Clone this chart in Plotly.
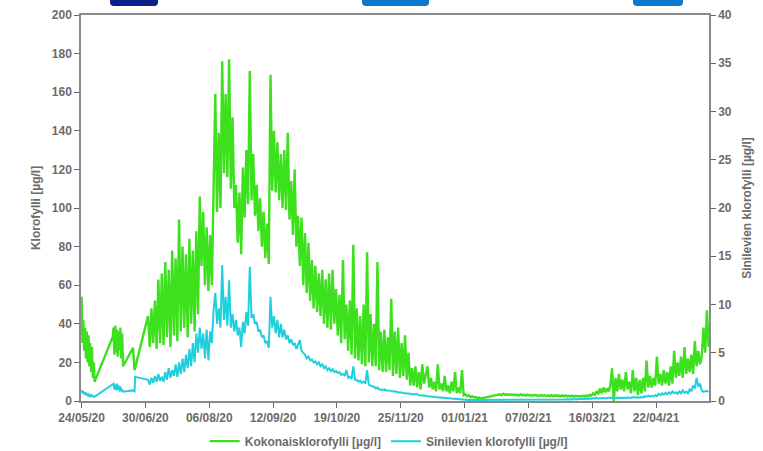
import pandas as pd
import plotly.graph_objects as go

START = pd.Timestamp("2020-05-24")

# ---------------- data (day offsets from 24/05/2020, values in µg/l) ----------------
# Kokonaisklorofylli (left axis)
green_a_start, green_a_step = 0.0, 0.5
green_a = [54, 30, 42, 26, 38, 22, 36, 20, 34, 18, 30, 15, 28, 12, 20, 10]
green_b_start, green_b_step = 18.0, 0.5
green_b = [33, 38, 24, 39, 25, 37, 23, 36, 26, 38, 22, 35, 18]
green_gap_days = [29.8, 30.7]
green_gap_vals = [27.5, 16]
green_c_start, green_c_step = 38.5, 1.0
green_c = [
    44, 28, 48, 30, 52, 27, 63, 30, 66, 29,
    72, 33, 68, 28, 78, 34, 74, 31, 94, 36,
    80, 38, 76, 33, 84, 40, 78, 36, 88, 45,
    106, 70, 98, 60, 90, 57, 86, 60, 120, 159,
    98, 139, 100, 176, 118, 159, 116, 177, 110, 147,
    100, 112, 82, 108, 76, 121, 95, 130, 102, 171,
    104, 128, 96, 112, 88, 105, 80, 98, 74, 92,
    71, 169, 109, 140, 108, 134, 104, 128, 100, 130,
    99, 139, 94, 114, 86, 120, 80, 96, 70, 95,
    60, 87, 56, 82, 52, 73, 48, 70, 46, 66,
    44, 68, 40, 63, 38, 66, 37, 68, 40, 58,
    34, 55, 30, 73, 32, 50, 26, 52, 24, 81,
    22, 48, 21, 44, 19, 50, 18, 77, 20, 45,
    18, 40, 18, 72, 16, 36, 15, 37, 15, 33,
    16, 53, 13, 36, 14, 38, 12, 30, 13, 34,
    11, 25, 8, 17, 8, 18, 7, 15, 6, 19,
    9, 14, 18, 7, 12, 6, 10, 5, 19, 6,
    9, 5, 13, 5, 8, 4, 10, 5, 15, 4,
    7, 4, 16, 3, 3.5, 2.5, 3, 2, 2.5, 1.8,
    2, 1.5, 1.8, 1.5, 1.5,
]
green_d_start, green_d_step = 242.5, 1.0
green_d = [
    3.5, 3, 3.8, 3.2, 3.6, 3, 3.5, 3.1, 3.4, 2.9,
    3.3, 2.8, 3.4, 3, 3.2, 2.8, 3.3, 2.9, 3.1, 2.7,
    3.2, 2.8, 3, 2.6, 3.1, 2.7, 3, 2.6, 2.9, 2.6,
    3, 2.5, 2.9, 2.6, 2.8, 2.4, 2.9, 2.5, 2.8, 2.4,
    2.7, 2.4, 2.8, 2.3, 2.7, 2.4, 2.6, 2.3, 2.7, 2.4,
    2.8, 2.5, 3.2, 2.8, 4, 3.2, 5, 3.5, 6.5, 4,
    7, 4.5, 6.5, 5, 8, 17, 0, 12, 5, 14,
    6, 11, 5, 15, 6, 10, 4, 16, 5, 12,
    3, 11, 4, 12, 5, 21, 7, 13, 7, 12,
    8, 23, 9, 14, 8, 16, 9, 15, 8, 18,
    9, 26, 12, 20, 13, 23, 12, 28, 14, 22,
    15, 24, 14, 31, 18, 26, 19, 23, 38, 25,
    47, 28,
]

# Sinilevien klorofylli (right axis)
cyan_a = [1.14, 0.8, 1.0, 0.7, 0.9, 0.6, 0.8, 0.6, 0.7, 0.5, 0.6, 0.5, 0.6, 0.5, 0.44, 0.44]
cyan_b = [1.66, 1.8, 1.2, 1.7, 1.1, 1.8, 1.2, 1.6, 1.0, 1.5, 1.0, 1.2, 0.96]
cyan_gap_days = [29.8, 30.7, 31.0]
cyan_gap_vals = [1.1, 1.0, 2.5]
cyan_c = [
    2.2, 1.7, 2.4, 1.9, 2.6, 2.0, 2.8, 2.1, 2.5, 2.0,
    3.0, 2.2, 3.4, 2.4, 3.2, 2.6, 3.8, 2.5, 4.0, 2.8,
    4.4, 3.0, 4.8, 3.4, 5.4, 3.6, 6.0, 4.0, 7.0, 5.0,
    7.6, 5.4, 7.0, 4.4, 7.4, 4.2, 7.2, 6.0, 9.4, 11.2,
    8.0, 9.6, 7.6, 14.1, 8.4, 10.8, 7.8, 12.5, 7.6, 9.0,
    7.2, 8.4, 6.8, 7.6, 5.6, 8.2, 7.0, 9.2, 7.8, 13.9,
    8.6, 9.0, 8.0, 8.2, 7.2, 7.4, 6.6, 6.8, 6.0, 6.2,
    5.5, 10.8, 7.6, 8.8, 7.0, 8.4, 6.6, 8.0, 6.6, 7.4,
    6.4, 6.8, 6.0, 6.4, 5.8, 6.0, 5.4, 5.8, 6.3, 5.2,
    5.0, 4.8, 4.4, 4.6, 4.2, 4.3, 4.0, 4.1, 3.8, 4.0,
    3.6, 3.8, 3.4, 3.6, 3.2, 3.4, 3.1, 3.3, 3.0, 3.1,
    2.9, 3.0, 2.7, 2.8, 2.6, 3.2, 2.4, 2.5, 2.3, 3.6,
    2.2, 2.2, 2.0, 2.1, 1.9, 2.0, 1.8, 3.2, 1.7, 1.6,
    1.5, 1.5, 1.3, 1.4, 1.2, 1.2, 1.15, 1.2, 1.1, 1.1,
    1.1, 1.05, 1.0, 1.0, 0.95, 0.9, 0.85, 0.9, 0.8, 0.8,
    0.8, 0.75, 0.75, 0.7, 0.7, 0.65, 0.7, 0.6, 0.6, 0.6,
    0.55, 0.55, 0.5, 0.5, 0.45, 0.45, 0.42, 0.4, 0.4, 0.38,
    0.35, 0.35, 0.32, 0.3, 0.3, 0.28, 0.25, 0.25, 0.22, 0.2,
    0.2, 0.18, 0.15, 0.15, 0.12, 0.12, 0.1, 0.1, 0.1, 0.1,
    0.1, 0.1, 0.1, 0.1, 0.1,
]
cyan_d = [
    0.15, 0.12, 0.15, 0.12, 0.15, 0.12, 0.14, 0.12, 0.14, 0.12,
    0.14, 0.12, 0.15, 0.12, 0.14, 0.12, 0.15, 0.12, 0.14, 0.12,
    0.15, 0.13, 0.15, 0.13, 0.16, 0.13, 0.15, 0.13, 0.16, 0.14,
    0.16, 0.14, 0.17, 0.14, 0.16, 0.14, 0.17, 0.15, 0.18, 0.15,
    0.18, 0.15, 0.2, 0.16, 0.2, 0.17, 0.22, 0.18, 0.22, 0.2,
    0.25, 0.2, 0.28, 0.22, 0.3, 0.25, 0.32, 0.26, 0.3, 0.26,
    0.32, 0.26, 0.3, 0.28, 0.35, 0.3, 0.32, 0.28, 0.34, 0.3,
    0.36, 0.3, 0.35, 0.3, 0.38, 0.32, 0.36, 0.32, 0.4, 0.34,
    0.38, 0.34, 0.42, 0.36, 0.5, 0.44, 0.55, 0.46, 0.52, 0.48,
    0.6, 0.5, 0.75, 0.6, 0.8, 0.65, 0.85, 0.7, 0.9, 0.75,
    1.0, 0.8, 0.9, 0.75, 1.0, 0.8, 1.1, 0.85, 0.95, 0.8,
    1.2, 1.0, 1.6, 1.3, 2.4, 1.5, 1.8, 1.1, 0.95, 1.0,
    1.05, 0.95,
]

tick_step_days = 37
x_range_days = [-0.35, 363.7]


def seg_days(start, step, n):
    return [start + i * step for i in range(n)]


green_days = (seg_days(green_a_start, green_a_step, len(green_a))
              + seg_days(green_b_start, green_b_step, len(green_b))
              + green_gap_days
              + seg_days(green_c_start, green_c_step, len(green_c))
              + seg_days(green_d_start, green_d_step, len(green_d)))
green_vals = green_a + green_b + green_gap_vals + green_c + green_d

cyan_days = (seg_days(green_a_start, green_a_step, len(cyan_a))
             + seg_days(green_b_start, green_b_step, len(cyan_b))
             + cyan_gap_days
             + seg_days(green_c_start, green_c_step, len(cyan_c))
             + seg_days(green_d_start, green_d_step, len(cyan_d)))
cyan_vals = cyan_a + cyan_b + cyan_gap_vals + cyan_c + cyan_d


def to_dates(days):
    return [START + pd.Timedelta(days=d) for d in days]


FONT = "Liberation Sans, Arial, sans-serif"
GREY = "#6b6b6b"

fig = go.Figure()
fig.add_trace(go.Scatter(
    x=to_dates(green_days), y=green_vals, mode="lines",
    name="Kokonaisklorofylli [µg/l]",
    line=dict(color="#3de01c", width=2.4), yaxis="y"))
fig.add_trace(go.Scatter(
    x=to_dates(cyan_days), y=cyan_vals, mode="lines",
    name="Sinilevien klorofylli [µg/l]",
    line=dict(color="#1fd0dc", width=2.0), yaxis="y2"))

W, H = 763, 451
L, R, T, B = 81, 709, 15, 401


def px(x):
    return (x - L) / (R - L)


def py(y):
    return (B - y) / (B - T)


def button(x0, x1, color):
    r = 4
    path = (f"M {px(x0)},{py(-2)} L {px(x0)},{py(6 - r)} "
            f"Q {px(x0)},{py(6)} {px(x0 + r)},{py(6)} "
            f"L {px(x1 - r)},{py(6)} Q {px(x1)},{py(6)} {px(x1)},{py(6 - r)} "
            f"L {px(x1)},{py(-2)} Z")
    return dict(type="path", xref="paper", yref="paper", path=path,
                fillcolor=color, line=dict(width=0), layer="above")


tickfont = dict(family=FONT, size=12, color=GREY, weight="bold")

fig.update_layout(
    width=W, height=H,
    margin=dict(l=L, r=W - R, t=T, b=H - B, autoexpand=False),
    paper_bgcolor="white", plot_bgcolor="white",
    font=dict(family=FONT, size=12, color=GREY, weight="bold"),
    showlegend=True,
    legend=dict(orientation="h", x=0.49, xanchor="center", y=-0.104, yanchor="middle",
                font=dict(family=FONT, size=12, color=GREY, weight="bold"),
                bgcolor="rgba(0,0,0,0)"),
    xaxis=dict(
        type="date", automargin=False,
        range=[START + pd.Timedelta(days=x_range_days[0]), START + pd.Timedelta(days=x_range_days[1])],
        tick0=START, dtick=tick_step_days * 86400000, tickformat="%d/%m/%y",
        showgrid=False, zeroline=False, showline=True, mirror=True,
        linecolor="#8a8a8a", linewidth=1.5,
        ticks="outside", ticklen=5, tickcolor="#666", tickwidth=1,
        tickfont=tickfont,
    ),
    yaxis=dict(
        range=[0, 200], dtick=20, showgrid=False, zeroline=False, automargin=False,
        showline=True, linecolor="#8a8a8a", linewidth=1.5,
        ticks="outside", ticklen=5, tickcolor="#666",
        tickfont=tickfont,
        title=dict(text="Klorofylli [µg/l]", standoff=9,
                   font=dict(family=FONT, size=12, color=GREY, weight="bold")),
    ),
    yaxis2=dict(
        range=[0, 40], dtick=5, overlaying="y", side="right", automargin=False,
        showgrid=False, zeroline=False,
        showline=True, linecolor="#8a8a8a", linewidth=1.5,
        ticks="outside", ticklen=5, tickcolor="#666",
        tickfont=tickfont,
        title=dict(text="Sinilevien klorofylli [µg/l]", standoff=12,
                   font=dict(family=FONT, size=12, color=GREY, weight="bold")),
    ),
    shapes=[button(110, 158, "#0c1f8a"), button(362, 429, "#0a78cf"), button(633, 683, "#0a78cf")],
)

fig.write_html("out.html", config={"displayModeBar": False},
               post_script="document.body.style.margin='0';document.body.style.padding='0';")
